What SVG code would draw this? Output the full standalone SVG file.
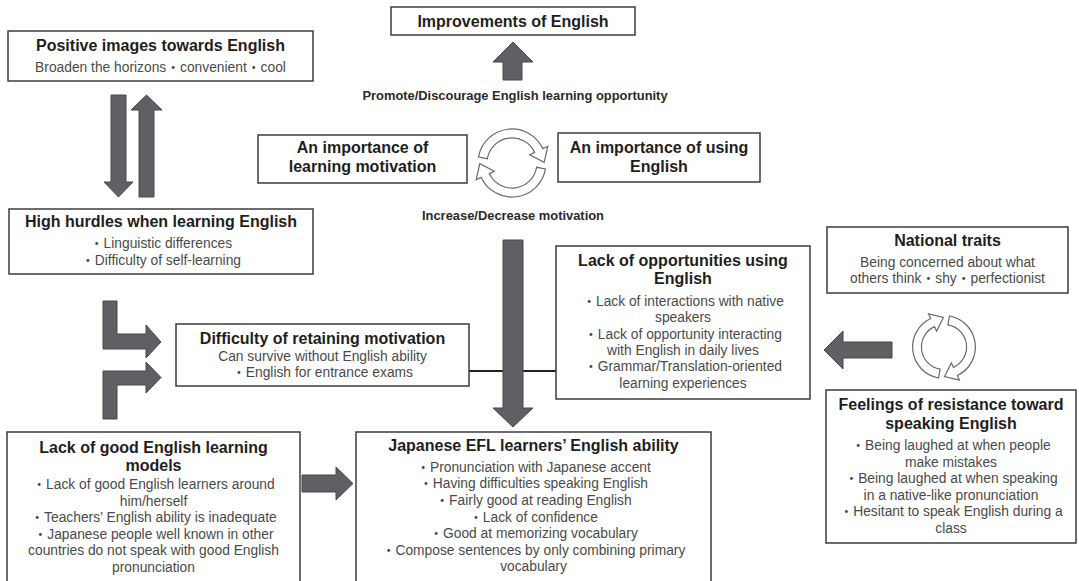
<svg xmlns="http://www.w3.org/2000/svg" width="1079" height="581" viewBox="0 0 1079 581">
<style>
.box{fill:#fff;stroke:#3c3c3c;stroke-width:1.5}
text{font-family:"Liberation Sans","Noto Sans CJK JP",sans-serif;text-anchor:middle}
.t{font-weight:bold;font-size:16px;fill:#1e1e1e}
.b{font-weight:normal;font-size:13.8px;fill:#4a4a4a}
.lab{font-weight:bold;font-size:12.9px;fill:#2a2a2a}
.arr{fill:#5f6064;stroke:#48494c;stroke-width:1}
.cyc{fill:#fff;stroke:#6a6a6a;stroke-width:1.2}
</style>
<defs>
<path id="cycC" d="M478.5,157.1 A34,34 0 0 1 542.8,148.6 L547.8,146.3 L544.2,162.3 L529.7,154.8 L534.7,152.4 A25,25 0 0 0 487.4,158.7 Z"/>
<path id="cycR" d="M938.5,378.0 A31.5,31.5 0 0 1 930.7,318.5 L928.6,313.9 L943.5,317.4 L936.6,331.1 L934.5,326.6 A22.5,22.5 0 0 0 940.1,369.2 Z"/>
</defs>
<rect width="1079" height="581" fill="#fff"/>

<g id="connectors">
<line x1="469" y1="371" x2="556" y2="371" stroke="#222" stroke-width="2"/>
<polygon class="arr" points="503,80 503,62 493,62 513,42 533,62 522,62 522,80"/>
<polygon class="arr" points="111,95 126,95 126,182 133,182 118.5,197 104,182 111,182"/>
<polygon class="arr" points="146.5,95 162,110 154,110 154,197 139,197 139,110 131,110"/>
<polygon class="arr" points="103,301 117,301 117,334 146,334 146,325 161,342 146,358 146,349 103,349"/>
<polygon class="arr" points="103,419 103,371 146,371 146,362 161,377.5 146,393 146,385 117,385 117,419"/>
<polygon class="arr" points="503,240 523,240 523,408 533,408 513,427 493,408 503,408"/>
<polygon class="arr" points="892,342 892,358 843,358 843,369 824,350 843,331 843,342"/>
<polygon class="arr" points="302,475 336,475 336,467 353,483.5 336,500 336,492 302,492"/>
<use href="#cycC" class="cyc"/>
<use href="#cycC" class="cyc" transform="rotate(180 512 163)"/>
<use href="#cycR" class="cyc"/>
<use href="#cycR" class="cyc" transform="rotate(180 944 347)"/>
<text class="lab" x="515" y="100">Promote/Discourage English learning opportunity</text>
<text class="lab" x="513" y="220">Increase/Decrease motivation</text>
</g>

<g id="improvements">
<rect class="box" x="391" y="7" width="244" height="28"/>
<text class="t" x="513" y="27">Improvements of English</text>
</g>

<g id="positive-images">
<rect class="box" x="8" y="31" width="305" height="50"/>
<text class="t" x="160.5" y="51">Positive images towards English</text>
<text class="b" x="160.5" y="72">Broaden the horizons・convenient・cool</text>
</g>

<g id="high-hurdles">
<rect class="box" x="9" y="209" width="304" height="65"/>
<text class="t" x="161" y="227">High hurdles when learning English</text>
<text class="b" x="161" y="248">・Linguistic differences</text>
<text class="b" x="161" y="265">・Difficulty of self-learning</text>
</g>

<g id="importance-learning">
<rect class="box" x="258" y="135" width="209" height="48"/>
<text class="t" x="362.5" y="153">An importance of</text>
<text class="t" x="362.5" y="172">learning motivation</text>
</g>

<g id="importance-using">
<rect class="box" x="558" y="133" width="202" height="49"/>
<text class="t" x="659" y="153">An importance of using</text>
<text class="t" x="659" y="172">English</text>
</g>

<g id="retaining-motivation">
<rect class="box" x="176" y="324" width="293" height="62"/>
<text class="t" x="322.5" y="344">Difficulty of retaining motivation</text>
<text class="b" x="322.5" y="361">Can survive without English ability</text>
<text class="b" x="322.5" y="377">・English for entrance exams</text>
</g>

<g id="lack-opportunities">
<rect class="box" x="556" y="246" width="254" height="153"/>
<text class="t" x="683" y="265.5">Lack of opportunities using</text>
<text class="t" x="683" y="284">English</text>
<text class="b" x="683" y="306">・Lack of interactions with native</text>
<text class="b" x="683" y="322">speakers</text>
<text class="b" x="683" y="339">・Lack of opportunity interacting</text>
<text class="b" x="683" y="355">with English in daily lives</text>
<text class="b" x="683" y="371">・Grammar/Translation-oriented</text>
<text class="b" x="683" y="388">learning experiences</text>
</g>

<g id="national-traits">
<rect class="box" x="827" y="227" width="241" height="66"/>
<text class="t" x="947.5" y="246">National traits</text>
<text class="b" x="947.5" y="267">Being concerned about what</text>
<text class="b" x="947.5" y="283">others think・shy・perfectionist</text>
</g>

<g id="feelings-resistance">
<rect class="box" x="826" y="390" width="250" height="153"/>
<text class="t" x="951" y="410">Feelings of resistance toward</text>
<text class="t" x="951" y="428.5">speaking English</text>
<text class="b" x="951" y="450">・Being laughed at when people</text>
<text class="b" x="951" y="467">make mistakes</text>
<text class="b" x="951" y="483">・Being laughed at when speaking</text>
<text class="b" x="951" y="500">in a native-like pronunciation</text>
<text class="b" x="951" y="516">・Hesitant to speak English during a</text>
<text class="b" x="951" y="533">class</text>
</g>

<g id="lack-models">
<rect class="box" x="7" y="432" width="293" height="160"/>
<text class="t" x="153.5" y="452.5">Lack of good English learning</text>
<text class="t" x="153.5" y="471">models</text>
<text class="b" x="153.5" y="489">・Lack of good English learners around</text>
<text class="b" x="153.5" y="506">him/herself</text>
<text class="b" x="153.5" y="522">・Teachers’ English ability is inadequate</text>
<text class="b" x="153.5" y="539">・Japanese people well known in other</text>
<text class="b" x="153.5" y="555">countries do not speak with good English</text>
<text class="b" x="153.5" y="572">pronunciation</text>
</g>

<g id="efl-ability">
<rect class="box" x="356" y="432" width="355" height="160"/>
<text class="t" x="533.5" y="451">Japanese EFL learners’ English ability</text>
<text class="b" x="533.5" y="472">・Pronunciation with Japanese accent</text>
<text class="b" x="533.5" y="488">・Having difficulties speaking English</text>
<text class="b" x="533.5" y="505">・Fairly good at reading English</text>
<text class="b" x="533.5" y="522">・Lack of confidence</text>
<text class="b" x="533.5" y="538">・Good at memorizing vocabulary</text>
<text class="b" x="533.5" y="555">・Compose sentences by only combining primary</text>
<text class="b" x="533.5" y="571">vocabulary</text>
</g>
</svg>
